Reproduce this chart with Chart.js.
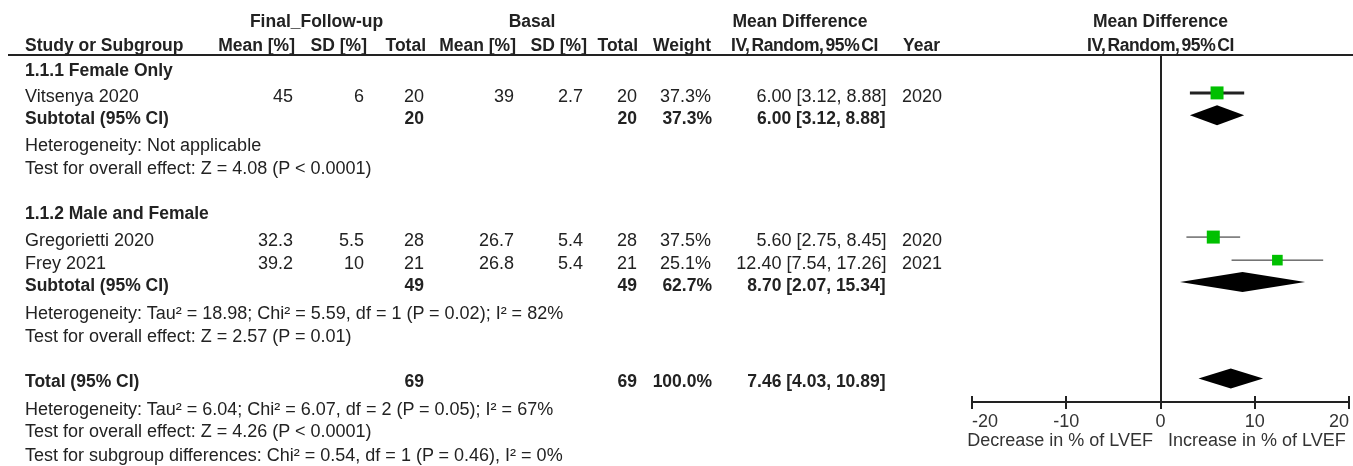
<!DOCTYPE html>
<html>
<head>
<meta charset="utf-8">
<script src="https://cdn.jsdelivr.net/npm/chart.js@4.4.0/dist/chart.umd.min.js"></script>
<style>
  html, body { margin: 0; padding: 0; background: #fff; overflow: hidden; }
  body { width: 1353px; height: 466px; position: relative; font-family: 'Liberation Sans', Arial, sans-serif; color: #222; }
  #wrap { position: absolute; left: 0; top: 0; width: 1400px; height: 466px; }
  .t { position: absolute; white-space: nowrap; font-size: 18px; line-height: 20px; height: 20px; }
  .b { font-weight: bold; font-size: 17.5px; }
  .r { transform: translateX(-100%); }
  .c { transform: translateX(-50%); }
  .n { word-spacing: -2.5px; letter-spacing: -0.4px; }
  .a { color: #333; }
  #rule { position: absolute; left: 8px; top: 54px; width: 1345px; height: 2px; background: #222; }
</style>
</head>
<body>
<div id="wrap"><canvas id="chart"></canvas></div>
<div id="rule"></div>
<div id="labels"></div>
<script>
// study rows
const studies = ['Vitsenya 2020', 'Gregorietti 2020', 'Frey 2021'];
const followMean = [45, 32.3, 39.2];
const followSD = [6, 5.5, 10];
const followTotal = [20, 28, 21];
const basalMean = [39, 26.7, 26.8];
const basalSD = [2.7, 5.4, 5.4];
const basalTotal = [20, 28, 21];
const studyWeight = [37.3, 37.5, 25.1];
const studyMD = [6.00, 5.60, 12.40];
const studyLow = [3.12, 2.75, 7.54];
const studyHigh = [8.88, 8.45, 17.26];
const studyYear = [2020, 2020, 2021];

// subgroups
const subgroups = ['1.1.1 Female Only', '1.1.2 Male and Female'];
const subFollowTotal = [20, 49];
const subBasalTotal = [20, 49];
const subWeight = [37.3, 62.7];
const subMD = [6.00, 8.70];
const subLow = [3.12, 2.07];
const subHigh = [8.88, 15.34];
const subHeterogeneity = [
    'Heterogeneity: Not applicable',
    'Heterogeneity: Tau² = 18.98; Chi² = 5.59, df = 1 (P = 0.02); I² = 82%'
];
const subOverall = [
    'Test for overall effect: Z = 4.08 (P < 0.0001)',
    'Test for overall effect: Z = 2.57 (P = 0.01)'
];

// overall
const totalFollow = 69;
const totalBasal = 69;
const totalWeight = 100.0;
const totalMD = 7.46;
const totalLow = 4.03;
const totalHigh = 10.89;
const totalNotes = [
    'Heterogeneity: Tau² = 6.04; Chi² = 6.07, df = 2 (P = 0.05); I² = 67%',
    'Test for overall effect: Z = 4.26 (P < 0.0001)',
    'Test for subgroup differences: Chi² = 0.54, df = 1 (P = 0.46), I² = 0%'
];

const xTicks = [-20, -10, 0, 10, 20];
const xLabels = ['Decrease in % of LVEF', 'Increase in % of LVEF'];

// layout: row slots in line units below the top rule
const headRows = [-1.64, -0.61];
const groupRows = [0.46, 6.69];
const studyRows = [1.6, 7.85, 8.85];
const subRows = [2.57, 9.8];
const hetRows = [3.71, 11.02];
const testRows = [4.72, 12.0];
const totalRow = 13.98;
const noteRows = [15.16, 16.13, 17.18];
const ciWidth = [3, 1, 1];
const col = { name: 25, fMean: 293, fSD: 364, fN: 424, bMean: 514, bSD: 583, bN: 637, weight: 711, md: 886.5, year: 902 };

const FONT = "'Liberation Sans', Arial, sans-serif";

const diamonds = {
    id: 'diamonds',
    afterDatasetsDraw(chart) {
        const { ctx, scales: { x, y } } = chart;
        const rows = subMD.map((m, i) => [subLow[i], m, subHigh[i], subRows[i]]);
        rows.push([totalLow, totalMD, totalHigh, totalRow]);
        ctx.save();
        ctx.fillStyle = '#000';
        rows.forEach(([lo, m, hi, r]) => {
            const py = y.getPixelForValue(r);
            ctx.beginPath();
            ctx.moveTo(x.getPixelForValue(lo), py);
            ctx.lineTo(x.getPixelForValue(m), py - 10);
            ctx.lineTo(x.getPixelForValue(hi), py);
            ctx.lineTo(x.getPixelForValue(m), py + 10);
            ctx.closePath();
            ctx.fill();
        });
        ctx.restore();
    }
};

// tick marks cross the axis line
const tickUp = {
    id: 'tickUp',
    afterDraw(chart) {
        const { ctx, scales: { x }, chartArea } = chart;
        ctx.save();
        ctx.strokeStyle = '#222';
        ctx.lineWidth = 2;
        x.ticks.forEach(t => {
            const px = Math.round(x.getPixelForValue(t.value));
            ctx.beginPath();
            ctx.moveTo(px, chartArea.bottom - 6);
            ctx.lineTo(px, chartArea.bottom);
            ctx.stroke();
        });
        ctx.restore();
    }
};

const datasets = [{
    data: studyMD.map((v, i) => ({ x: v, y: studyRows[i] })),
    pointStyle: 'rect',
    pointRadius: studyWeight.map(w => 1.5 * Math.sqrt(w)),
    backgroundColor: '#00c000',
    borderWidth: 0,
    order: 0
}];
studies.forEach((s, i) => {
    datasets.push({
        data: [{ x: studyLow[i], y: studyRows[i] }, { x: studyHigh[i], y: studyRows[i] }],
        showLine: true,
        borderColor: '#222',
        borderWidth: ciWidth[i],
        pointRadius: 0,
        order: 1
    });
});

const chart = new Chart(document.getElementById('chart'), {
    type: 'scatter',
    data: { datasets: datasets },
    options: {
        responsive: true,
        maintainAspectRatio: false,
        animation: false,
        events: [],
        layout: { padding: { left: 972, right: 51, top: 56, bottom: 34 } },
        plugins: { legend: { display: false }, tooltip: { enabled: false } },
        scales: {
            x: {
                type: 'linear', min: -20, max: 20,
                afterBuildTicks: s => { s.ticks = xTicks.map(v => ({ value: v })); },
                afterFit: s => { s.height = 30; },
                ticks: { color: '#333', font: { family: FONT, size: 18 }, padding: 2, maxRotation: 0, autoSkip: false, align: 'inner' },
                grid: {
                    color: c => (c.tick && c.tick.value === 0) ? '#222' : 'rgba(0,0,0,0)',
                    lineWidth: 2, tickColor: '#222', tickWidth: 2, tickLength: 7
                },
                border: { display: true, color: '#222', width: 2 }
            },
            y: { type: 'linear', display: false, min: 0, max: 15, reverse: true }
        }
    },
    plugins: [diamonds, tickUp]
});

// table text
const box = document.getElementById('labels');
const yPx = r => chart.scales.y.getPixelForValue(r);

function put(text, x, top, align, cls) {
    const d = document.createElement('div');
    d.className = 't' + (cls ? ' ' + cls : '') + (align === 'right' ? ' r' : align === 'center' ? ' c' : '');
    d.textContent = text;
    d.style.left = x + 'px';
    d.style.top = top + 'px';
    box.appendChild(d);
}
function row(text, x, r, align, cls) { put(text, x, yPx(r) - 7, align, cls); }
const fmtCI = (m, lo, hi) => m.toFixed(2) + ' [' + lo.toFixed(2) + ', ' + hi.toFixed(2) + ']';

const plotMid = (chart.chartArea.left + chart.chartArea.right) / 2;

row('Final_Follow-up', 316.5, headRows[0], 'center', 'b');
row('Basal', 532, headRows[0], 'center', 'b');
row('Mean Difference', 800, headRows[0], 'center', 'b');
row('Mean Difference', plotMid, headRows[0], 'center', 'b');

row('Study or Subgroup', col.name, headRows[1], 'left', 'b');
row('Mean [%]', 295, headRows[1], 'right', 'b');
row('SD [%]', 367, headRows[1], 'right', 'b');
row('Total', 426, headRows[1], 'right', 'b');
row('Mean [%]', 516, headRows[1], 'right', 'b');
row('SD [%]', 587, headRows[1], 'right', 'b');
row('Total', 638, headRows[1], 'right', 'b');
row('Weight', 711, headRows[1], 'right', 'b');
row('IV, Random, 95% CI', 804.5, headRows[1], 'center', 'b n');
row('Year', 903, headRows[1], 'left', 'b');
row('IV, Random, 95% CI', plotMid, headRows[1], 'center', 'b n');

const groupOf = [0, 1, 1];
subgroups.forEach((g, gi) => {
    row(g, col.name, groupRows[gi], 'left', 'b');
    studies.forEach((s, i) => {
        if (groupOf[i] !== gi) return;
        const r = studyRows[i];
        row(s, col.name, r, 'left');
        row(String(followMean[i]), col.fMean, r, 'right');
        row(String(followSD[i]), col.fSD, r, 'right');
        row(String(followTotal[i]), col.fN, r, 'right');
        row(String(basalMean[i]), col.bMean, r, 'right');
        row(String(basalSD[i]), col.bSD, r, 'right');
        row(String(basalTotal[i]), col.bN, r, 'right');
        row(studyWeight[i].toFixed(1) + '%', col.weight, r, 'right');
        row(fmtCI(studyMD[i], studyLow[i], studyHigh[i]), col.md, r, 'right');
        row(String(studyYear[i]), col.year, r, 'left');
    });
    row('Subtotal (95% CI)', col.name, subRows[gi], 'left', 'b');
    row(String(subFollowTotal[gi]), col.fN, subRows[gi], 'right', 'b');
    row(String(subBasalTotal[gi]), col.bN, subRows[gi], 'right', 'b');
    row(subWeight[gi].toFixed(1) + '%', col.weight + 1, subRows[gi], 'right', 'b');
    row(fmtCI(subMD[gi], subLow[gi], subHigh[gi]), col.md - 1, subRows[gi], 'right', 'b');
    row(subHeterogeneity[gi], col.name, hetRows[gi], 'left');
    row(subOverall[gi], col.name, testRows[gi], 'left');
});

row('Total (95% CI)', col.name, totalRow, 'left', 'b');
row(String(totalFollow), col.fN, totalRow, 'right', 'b');
row(String(totalBasal), col.bN, totalRow, 'right', 'b');
row(totalWeight.toFixed(1) + '%', col.weight + 1, totalRow, 'right', 'b');
row(fmtCI(totalMD, totalLow, totalHigh), col.md - 1, totalRow, 'right', 'b');
totalNotes.forEach((n, i) => row(n, col.name, noteRows[i], 'left'));

// axis direction labels
const x0 = chart.scales.x.getPixelForValue(0);
put(xLabels[0], x0 - 7.5, chart.chartArea.bottom + 28, 'right', 'a');
put(xLabels[1], x0 + 7.5, chart.chartArea.bottom + 28, 'left', 'a');
</script>
</body>
</html>
